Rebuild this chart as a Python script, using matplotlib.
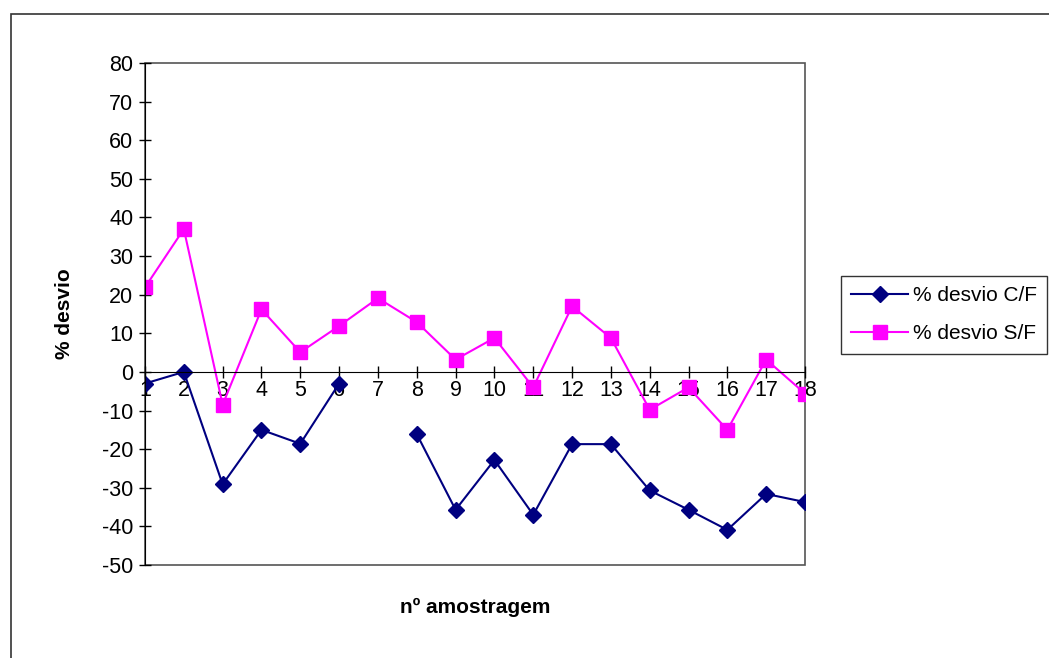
import numpy as np
import matplotlib
matplotlib.use("Agg")
import matplotlib.pyplot as plt
from matplotlib.patches import Rectangle

plt.rcParams['font.family'] = ['Liberation Sans', 'DejaVu Sans']
plt.rcParams['axes.unicode_minus'] = False

amostras = list(range(1, 19))
desvio_cf = [-3.0, 0.0, -29.1, -15.0, -18.6, -3.0, np.nan, -16.1, -35.7,
             -22.8, -37.0, -18.7, -18.7, -30.7, -35.7, -40.9, -31.6, -33.7]
desvio_sf = [21.9, 37.0, -8.5, 16.2, 5.1, 11.9, 19.1, 12.9, 3.2,
             8.8, -4.0, 17.0, 8.8, -9.8, -4.0, -15.0, 3.2, -5.6]
y_ticks = list(range(-50, 81, 10))

fig = plt.figure(figsize=(10.49, 6.58), dpi=100)
ax = fig.add_axes([145 / 1049, 1 - 565 / 658, 660 / 1049, 502 / 658])

# outer chart border (only top and left fall inside the picture)
fig.patches.append(Rectangle((11 / 1049, -0.05), 1.2, 1 - 14 / 658 + 0.05,
                             transform=fig.transFigure, fill=False,
                             edgecolor="#333333", linewidth=1.2))

ax.plot(amostras, desvio_cf, color="#000080", marker="D", markersize=8,
        linewidth=1.5, label="% desvio C/F")
ax.plot(amostras, desvio_sf, color="#FF00FF", marker="s", markersize=10.5,
        linewidth=1.5, label="% desvio S/F")

ax.set_xlim(1, 18)
ax.set_ylim(-50, 80)
ax.set_yticks(y_ticks)
ax.set_xticks(amostras)

# plot area box, x axis crossing at zero
ax.add_patch(Rectangle((0, 0), 1, 1, transform=ax.transAxes, fill=False,
                       edgecolor="#555555", linewidth=1.2, clip_on=False))
ax.spines["bottom"].set_position(("data", 0))
ax.spines["top"].set_visible(False)
ax.spines["right"].set_visible(False)
ax.spines["left"].set_color("black")
ax.spines["bottom"].set_color("black")

ax.tick_params(axis="both", direction="inout", length=9, width=1,
               labelsize=15.5, colors="black")
ax.tick_params(axis="x", pad=1)
ax.tick_params(axis="y", pad=4)

ax.set_ylabel("% desvio", fontsize=15, fontweight="bold")
ax.yaxis.set_label_coords(-0.107, 0.5)
fig.text(475 / 1049, 1 - 607 / 658, "nº amostragem", fontsize=15,
         fontweight="bold", ha="center", va="center")

leg = fig.legend(loc="upper left", bbox_to_anchor=(841 / 1049, 1 - 276 / 658),
                 fontsize=15, frameon=True, fancybox=False, borderpad=0.5,
                 handlelength=2.7, handletextpad=0.25, labelspacing=0.9,
                 borderaxespad=0)
leg.get_frame().set_edgecolor("black")
leg.get_frame().set_linewidth(1.0)

fig.savefig("out.png", dpi=100)
